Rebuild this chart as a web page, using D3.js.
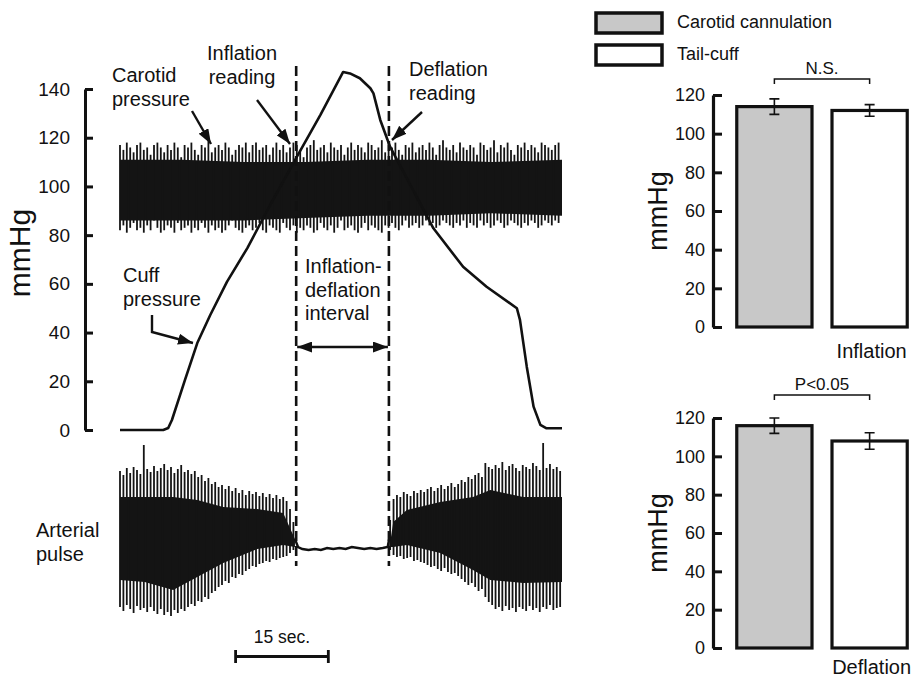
<!DOCTYPE html>
<html>
<head>
<meta charset="utf-8">
<script src="https://cdn.jsdelivr.net/npm/d3@7/dist/d3.min.js"></script>
<style>
  body { margin: 0; background: #ffffff; }
  text { font-family: "Liberation Sans", Arial, sans-serif; fill: #111; }
</style>
</head>
<body>
<div id="container"></div>
<script>
// ---------- data ----------
// cuff pressure trace (time in s, mmHg)
let cuffTime = [0, 7.0, 7.8, 8.4, 10.5, 12.5, 14.6, 17.3, 20.6, 24.3, 28.6, 32.4, 36.1, 37.2, 38.8, 40.5, 41.0, 42.1, 43.7, 50.7, 55.5, 59.3, 64.2, 64.7, 65.8, 66.9, 68.0, 69.0, 71.5];
let cuffPressure = [0, 0, 0.8, 4.1, 20.5, 35.7, 47.2, 60.8, 74.7, 92.4, 112.1, 129.3, 147.0, 146.4, 144.4, 140.3, 138.2, 127.3, 116.2, 82.8, 67.0, 58.8, 50.0, 45.2, 26.0, 9.6, 2.1, 0.7, 0.7];

// carotid pressure, one value per beat (beat interval 0.55 s)
let beatInterval = 0.55;
let carotidSys = [
  117,115,118,116,114,117,118,115,116,113,117,118,116,114,117,115,118,116,112,117,
  116,118,115,113,117,116,119,114,116,117,115,118,116,113,115,117,116,118,114,117,
  118,115,116,117,113,116,118,115,117,114,116,118,117,115,112,116,117,119,115,116,
  117,114,118,116,115,117,113,116,118,115,117,116,114,118,117,115,116,119,114,117,
  116,118,115,113,117,116,118,114,116,117,115,118,116,113,117,119,116,115,117,114,
  118,116,115,117,116,113,118,117,115,116,119,114,117,116,118,115,113,117,116,118,
  115,117,116,114,118,117,116,115,117,118];
let carotidDia = [
  82,84,81,83,85,82,83,81,84,82,86,83,81,82,84,83,81,85,82,83,
  84,81,83,82,85,83,81,84,82,83,81,82,84,86,83,82,81,83,84,82,
  83,85,82,81,84,83,82,81,85,83,82,84,81,83,82,84,83,81,82,85,
  83,82,84,81,83,86,82,83,84,82,81,83,85,82,84,83,82,81,84,83,
  85,83,82,84,86,83,84,85,83,84,86,84,85,83,84,86,85,84,83,85,
  84,86,83,85,84,83,86,84,85,83,84,86,85,83,84,86,85,84,83,85,
  84,86,85,83,84,86,85,84,86,85];
// solid core of the carotid band
let carotidCoreT = [0, 10, 20, 30, 40, 50, 60, 71.5];
let carotidCoreHi = [111, 111, 110, 110, 111, 111, 110, 111];
let carotidCoreLo = [86, 86, 86, 87, 88, 88, 89, 88];

// arterial pulse (arbitrary units, 0 = baseline)
let pulseLeftStart = 0;
let pulseLeftTop = [
  76,72,79,74,80,77,73,102,78,75,
  81,76,79,83,77,80,74,78,82,75,
  77,73,76,70,72,66,69,63,65,60,
  62,58,61,56,59,54,57,52,56,53,
  55,51,54,50,53,49,52,48,50,46,
  38,25];
let pulseLeftBot = [
  -60,-64,-58,-62,-66,-59,-63,-61,-65,-60,
  -64,-67,-62,-68,-65,-69,-63,-66,-62,-64,
  -60,-57,-59,-54,-55,-50,-52,-46,-44,-40,
  -38,-34,-36,-30,-31,-27,-28,-24,-22,-19,
  -20,-17,-16,-14,-15,-12,-13,-11,-10,-9,
  -6,-3];
let pulseRightStart = 43.7;
let pulseRightTop = [
  27,48,52,50,55,53,51,56,54,57,
  55,58,60,56,59,62,58,61,64,60,
  63,67,65,70,68,72,74,70,84,80,
  78,82,79,85,77,81,83,79,76,82,
  80,78,84,81,77,104,79,83,78,80,
  76];
let pulseRightBot = [
  -3,-8,-10,-9,-12,-11,-10,-14,-13,-15,
  -16,-18,-20,-19,-22,-24,-21,-25,-27,-26,
  -29,-32,-35,-38,-36,-40,-44,-42,-50,-55,
  -58,-62,-60,-64,-59,-63,-61,-65,-60,-62,
  -64,-59,-63,-61,-65,-60,-62,-58,-63,-61,
  -60];
let pulseCoreLeftT = [0, 4, 8.6, 12.5, 16.7, 22.2, 26.4, 28.3];
let pulseCoreLeftHi = [50, 50, 50, 47, 40, 38, 34, 8];
let pulseCoreLeftLo = [-33, -35, -43, -30, -16, -2, 2, 0];
let pulseCoreRightT = [43.6, 44.2, 46.4, 51.8, 57.1, 59.9, 65.2, 71.5];
let pulseCoreRightHi = [0, 25, 37, 45, 50, 57, 50, 50];
let pulseCoreRightLo = [0, 0, 2, -6, -23, -33, -36, -35];
// occluded (flat) part
let pulseFlatT = [28.3, 28.8, 29.5, 30.5, 31.5, 32.5, 33.5, 34.5, 35.5, 36.5, 37.5, 38.5, 39.5, 40.5, 41.5, 42.5, 43.3, 43.6];
let pulseFlatV = [8, 0, -2, -3, -2, -3, -1, -2, -1, -2, 0, -1, -2, -1, -2, -1, 0, 10];

let inflationTime = 28.5;
let deflationTime = 43.5;
let scaleBarStart = 18.7;
let scaleBarLength = 15;
let pressureTicks = [0, 20, 40, 60, 80, 100, 120, 140];

// bar charts
let groups = ["Carotid cannulation", "Tail-cuff"];
let groupFill = ["#c8c8c8", "#ffffff"];
let inflationMeans = [114, 112];
let inflationSEM = [4, 3];
let deflationMeans = [116, 108];
let deflationSEM = [4, 4.3];
let barTicks = [0, 20, 40, 60, 80, 100, 120];

// ---------- svg ----------
let w = 922;
let h = 679;
let viz = d3.select("#container")
  .append("svg")
    .attr("width", w)
    .attr("height", h)
    .style("background-color", "#ffffff");

let defs = viz.append("defs");
defs.append("marker")
    .attr("id", "head")
    .attr("markerUnits", "userSpaceOnUse")
    .attr("markerWidth", 16)
    .attr("markerHeight", 11)
    .attr("refX", 15)
    .attr("refY", 5.5)
    .attr("orient", "auto-start-reverse")
  .append("path")
    .attr("d", "M0,0 L15,5.5 L0,11 Z")
    .attr("fill", "#111");

let x = d3.scaleLinear().domain([0, 71.5]).range([120, 562]);
let y = d3.scaleLinear().domain([0, 140]).range([430, 89]);
let yPulse = d3.scaleLinear().domain([-70, 110]).range([617, 437]);

// left axis
let yAxisGroup = viz.append("g")
    .attr("transform", "translate(85,0)")
    .call(d3.axisLeft(y).tickValues(pressureTicks).tickSize(-8).tickSizeOuter(0).tickPadding(15));
yAxisGroup.select(".domain").attr("stroke", "#111").attr("stroke-width", 3);
yAxisGroup.selectAll(".tick line").attr("stroke", "#111").attr("stroke-width", 3);
yAxisGroup.selectAll(".tick text").style("font-size", "19px").attr("fill", "#111");

viz.append("text")
    .text("mmHg")
    .attr("transform", "translate(30,253) rotate(-90)")
    .attr("text-anchor", "middle")
    .style("font-size", "30px");

// carotid pressure band
let coreArea = d3.area()
    .x(d => x(d.t))
    .y0(d => y(d.lo))
    .y1(d => y(d.hi));
viz.append("path")
    .datum(carotidCoreT.map((t, i) => ({t: t, lo: carotidCoreLo[i], hi: carotidCoreHi[i]})))
    .attr("d", coreArea)
    .attr("fill", "#141414");
viz.append("g").selectAll("line")
  .data(carotidSys)
  .join("line")
    .attr("x1", (d, i) => x(i * beatInterval))
    .attr("x2", (d, i) => x(i * beatInterval))
    .attr("y1", (d, i) => y(carotidDia[i]))
    .attr("y2", d => y(d))
    .attr("stroke", "#141414")
    .attr("stroke-width", 1.8);

// cuff pressure
let cuffLine = d3.line()
    .x((d, i) => x(cuffTime[i]))
    .y(d => y(d));
viz.append("path")
    .datum(cuffPressure)
    .attr("d", cuffLine)
    .attr("fill", "none")
    .attr("stroke", "#111")
    .attr("stroke-width", 2.6)
    .attr("stroke-linejoin", "round");

// arterial pulse
let pulseArea = d3.area()
    .x(d => x(d.t))
    .y0(d => yPulse(d.lo))
    .y1(d => yPulse(d.hi));
viz.append("path")
    .datum(pulseCoreLeftT.map((t, i) => ({t: t, lo: pulseCoreLeftLo[i], hi: pulseCoreLeftHi[i]})))
    .attr("d", pulseArea)
    .attr("fill", "#141414");
viz.append("path")
    .datum(pulseCoreRightT.map((t, i) => ({t: t, lo: pulseCoreRightLo[i], hi: pulseCoreRightHi[i]})))
    .attr("d", pulseArea)
    .attr("fill", "#141414");

function drawBeats(tops, bots, start){
  viz.append("g").selectAll("line")
    .data(tops)
    .join("line")
      .attr("x1", (d, i) => x(start + i * beatInterval))
      .attr("x2", (d, i) => x(start + i * beatInterval))
      .attr("y1", (d, i) => yPulse(bots[i]))
      .attr("y2", d => yPulse(d))
      .attr("stroke", "#141414")
      .attr("stroke-width", 1.8);
}
drawBeats(pulseLeftTop, pulseLeftBot, pulseLeftStart);
drawBeats(pulseRightTop, pulseRightBot, pulseRightStart);

viz.append("path")
    .datum(pulseFlatV)
    .attr("d", d3.line().x((d, i) => x(pulseFlatT[i])).y(d => yPulse(d)))
    .attr("fill", "none")
    .attr("stroke", "#111")
    .attr("stroke-width", 2.4);

// dashed reading lines
viz.selectAll(".reading")
  .data([inflationTime, deflationTime])
  .join("line")
    .attr("class", "reading")
    .attr("x1", d => x(d))
    .attr("x2", d => x(d))
    .attr("y1", 66)
    .attr("y2", 566)
    .attr("stroke", "#111")
    .attr("stroke-width", 2.6)
    .attr("stroke-dasharray", "10,5");

// interval double arrow
viz.append("line")
    .attr("x1", x(inflationTime) + 1)
    .attr("x2", x(deflationTime) - 1)
    .attr("y1", 347)
    .attr("y2", 347)
    .attr("stroke", "#111")
    .attr("stroke-width", 2.6)
    .attr("marker-start", "url(#head)")
    .attr("marker-end", "url(#head)");

// annotations
function multiText(lines, px, py, anchor){
  let t = viz.append("text")
      .attr("x", px)
      .attr("y", py)
      .attr("text-anchor", anchor)
      .style("font-size", "20px");
  t.selectAll("tspan")
    .data(lines)
    .join("tspan")
      .attr("x", px)
      .attr("dy", (d, i) => i == 0 ? 0 : 23.5)
      .text(d => d);
}
multiText(["Carotid", "pressure"], 112, 82, "start");
multiText(["Inflation", "reading"], 242, 60, "middle");
multiText(["Deflation", "reading"], 409, 76, "start");
multiText(["Cuff", "pressure"], 123, 282, "start");
multiText(["Inflation-", "deflation", "interval"], 305, 273, "start");
multiText(["Arterial", "pulse"], 36, 537, "start");

function arrow(points){
  viz.append("path")
      .attr("d", d3.line()(points))
      .attr("fill", "none")
      .attr("stroke", "#111")
      .attr("stroke-width", 2.4)
      .attr("marker-end", "url(#head)");
}
arrow([[192, 111], [211, 144]]);
arrow([[257, 100], [290, 144]]);
arrow([[422, 112], [392, 140]]);
arrow([[152, 315], [152, 332], [193, 343]]);

// scale bar
let sb = viz.append("g");
sb.append("text")
    .text("15 sec.")
    .attr("x", x(scaleBarStart + scaleBarLength / 2))
    .attr("y", 643)
    .attr("text-anchor", "middle")
    .style("font-size", "17.5px");
sb.append("path")
    .attr("d", "M" + x(scaleBarStart) + ",650V663M" + x(scaleBarStart) + ",656.5H" + x(scaleBarStart + scaleBarLength) + "M" + x(scaleBarStart + scaleBarLength) + ",650V663")
    .attr("fill", "none")
    .attr("stroke", "#111")
    .attr("stroke-width", 2.8);

// ---------- bar charts ----------
let xb = d3.scaleBand().domain(groups).range([712, 932]).paddingInner(0.21).paddingOuter(0.26);

function barChart(means, sems, yBottom, yTop, label, labelY, sig, bracketY){
  let yb = d3.scaleLinear().domain([0, 120]).range([yBottom, yTop]);
  let g = viz.append("g");
  g.selectAll(".bar")
    .data(means)
    .join("rect")
      .attr("class", "bar")
      .attr("x", (d, i) => xb(groups[i]))
      .attr("y", d => yb(d))
      .attr("width", xb.bandwidth())
      .attr("height", d => yb(0) - yb(d))
      .attr("fill", (d, i) => groupFill[i])
      .attr("stroke", "#111")
      .attr("stroke-width", 3.2);
  // error bars
  g.selectAll(".err")
    .data(means)
    .join("path")
      .attr("class", "err")
      .attr("d", (d, i) => {
        let cx = xb(groups[i]) + xb.bandwidth() / 2;
        let hi = yb(d + sems[i]);
        let lo = yb(d - sems[i]);
        return "M" + (cx - 5) + "," + hi + "H" + (cx + 5) + "M" + cx + "," + hi + "V" + lo + "M" + (cx - 5) + "," + lo + "H" + (cx + 5);
      })
      .attr("fill", "none")
      .attr("stroke", "#111")
      .attr("stroke-width", 1.6);
  let ax = g.append("g")
      .attr("transform", "translate(713,0)")
      .call(d3.axisLeft(yb).tickValues(barTicks).tickSize(-9).tickSizeOuter(0).tickPadding(8));
  ax.select(".domain").attr("stroke", "#111").attr("stroke-width", 3.2);
  ax.selectAll(".tick line").attr("stroke", "#111").attr("stroke-width", 3);
  ax.selectAll(".tick text").style("font-size", "18px").attr("fill", "#111");
  g.append("text")
      .text("mmHg")
      .attr("transform", "translate(667," + (yBottom + yTop) / 2 + ") rotate(-90)")
      .attr("text-anchor", "middle")
      .style("font-size", "27px");
  // significance bracket
  let c1 = xb(groups[0]) + xb.bandwidth() / 2;
  let c2 = xb(groups[1]) + xb.bandwidth() / 2;
  g.append("path")
      .attr("d", "M" + c1 + "," + (bracketY + 5) + "V" + bracketY + "H" + c2 + "V" + (bracketY + 5))
      .attr("fill", "none")
      .attr("stroke", "#111")
      .attr("stroke-width", 1.5);
  g.append("text")
      .text(sig)
      .attr("x", (c1 + c2) / 2)
      .attr("y", bracketY - 5)
      .attr("text-anchor", "middle")
      .style("font-size", "17px");
  g.append("text")
      .text(label)
      .attr("x", c2 + 2)
      .attr("y", labelY)
      .attr("text-anchor", "middle")
      .style("font-size", "20px");
}
barChart(inflationMeans, inflationSEM, 327, 95, "Inflation", 358, "N.S.", 79);
barChart(deflationMeans, deflationSEM, 648, 418, "Deflation", 674, "P<0.05", 395);

// legend
let legend = viz.append("g")
  .selectAll("g")
  .data(groups)
  .join("g")
    .attr("transform", (d, i) => "translate(596," + (13 + i * 32) + ")");
legend.append("rect")
    .attr("width", 66)
    .attr("height", 20)
    .attr("fill", (d, i) => groupFill[i])
    .attr("stroke", "#111")
    .attr("stroke-width", 3.5);
legend.append("text")
    .text(d => d)
    .attr("x", 81)
    .attr("y", 15)
    .style("font-size", "18px");
</script>
</body>
</html>
